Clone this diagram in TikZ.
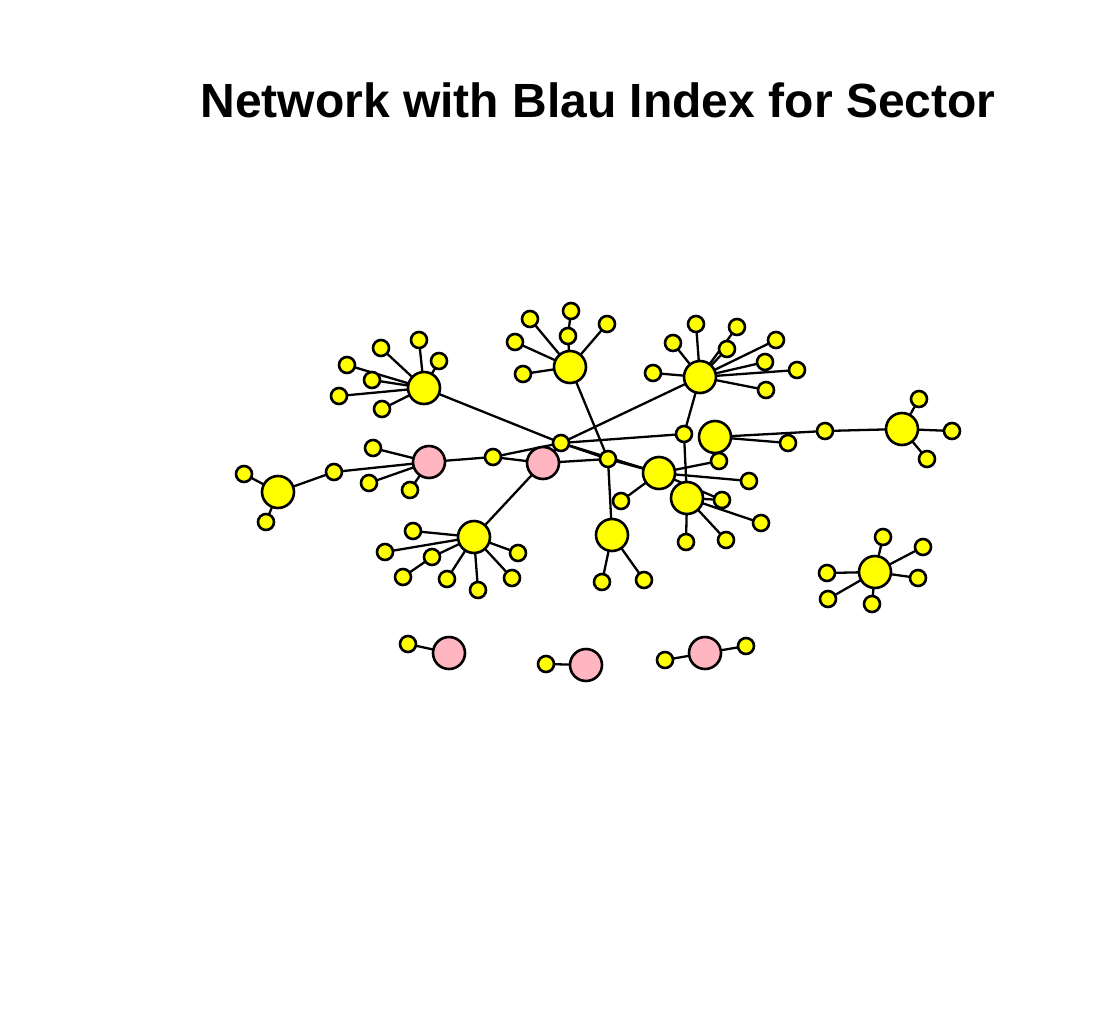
\documentclass[tikz,border=0pt]{standalone}
\usepackage{fontspec}
\setmainfont{Liberation Sans}
\pgfdeclarelayer{back}
\pgfdeclarelayer{bg}
\pgfsetlayers{back,bg,main}
\definecolor{nyel}{RGB}{255,255,0}
\definecolor{npink}{RGB}{255,182,193}
\tikzset{
  big/.style={circle,draw=black,line width=2.6pt,fill=nyel,minimum size=32pt,inner sep=0pt},
  sml/.style={circle,draw=black,line width=2.6pt,fill=nyel,minimum size=16pt,inner sep=0pt},
  pnk/.style={circle,draw=black,line width=2.6pt,fill=npink,minimum size=32pt,inner sep=0pt},
  edge/.style={draw=black,line width=2.3pt}
}
\begin{document}
\begin{tikzpicture}[x=1pt,y=-1pt]
\begin{pgfonlayer}{back}
\fill[white] (0,0) rectangle (1100,1025);
\end{pgfonlayer}
\useasboundingbox (0,0) rectangle (1100,1025);
\node[font=\fontsize{48}{52}\selectfont\bfseries] (title) at (598,100) {Network with Blau Index for Sector};
% main component
\node[big] (A) at (424,388) {};
\foreach \n/\x/\y in {a1/419/340,a2/381/348,a3/439/361,a4/347/365,a5/372/380,a6/339/396,a7/382/409}
  \node[sml] (\n) at (\x,\y) {};
\node[pnk] (P1) at (429,462) {};
\foreach \n/\x/\y in {p1a/373/448,p1b/369/483,p1c/410/490,p1d/334/472,p1e/493/457}
  \node[sml] (\n) at (\x,\y) {};
\node[big] (Bb) at (278,492) {};
\node[sml] (b1) at (244,474) {};
\node[sml] (b2) at (266,522) {};
\node[pnk] (P2) at (543,463) {};
\node[sml] (ce) at (561,443) {};
\node[big] (C) at (570,367) {};
\foreach \n/\x/\y in {c1/530/319,c2/571/311,c3/607/324,c4/568/336,c5/515/342,c6/523/374}
  \node[sml] (\n) at (\x,\y) {};
\node[big] (D) at (700,377) {};
\foreach \n/\x/\y in {d1/696/324,d2/737/327,d3/673/343,d4/727/349,d5/776/340,d6/765/362,d7/797/370,d8/653/373,d9/766/390}
  \node[sml] (\n) at (\x,\y) {};
\node[sml] (m1) at (608,459) {};
\node[sml] (s2) at (684,434) {};
\node[big] (E) at (715,437) {};
\node[big] (F) at (902,429) {};
\foreach \n/\x/\y in {e1/719/461,e2/788/443,e3/825/431,f1/919/399,f2/952/431,f3/927/459}
  \node[sml] (\n) at (\x,\y) {};
\node[big] (G) at (659,473) {};
\node[big] (J) at (687,498) {};
\node[big] (H) at (612,535) {};
\foreach \n/\x/\y in {g1/749/481,g2/621/501,j1/722/500,j2/761/523,j3/686/542,j4/726/540,h1/602/582,h2/644/580}
  \node[sml] (\n) at (\x,\y) {};
\node[big] (I) at (474,537) {};
\foreach \n/\x/\y in {i1/413/531,i2/385/552,i3/432/557,i4/403/577,i5/447/579,i6/478/590,i7/512/578,i8/518/553}
  \node[sml] (\n) at (\x,\y) {};
% component K
\node[big] (K) at (875,572) {};
\foreach \n/\x/\y in {k1/883/537,k2/923/547,k3/918/578,k4/827/573,k5/828/599,k6/872/604}
  \node[sml] (\n) at (\x,\y) {};
% pairs
\node[pnk] (Q1) at (449,653) {};
\node[sml] (q1) at (408,644) {};
\node[pnk] (Q2) at (586,665) {};
\node[sml] (q2) at (546,664) {};
\node[pnk] (Q3) at (705,653) {};
\node[sml] (q3) at (665,660) {};
\node[sml] (q4) at (746,646) {};
\begin{pgfonlayer}{bg}
\foreach \u/\v in {A/a1,A/a2,A/a3,A/a4,A/a5,A/a6,A/a7,A/ce,
  P1/p1a,P1/p1b,P1/p1c,P1/p1d,P1/p1e,Bb/b1,Bb/b2,Bb/p1d,
  p1e/P2,p1e/ce,P2/m1,P2/I,P2/ce,
  ce/D,ce/s2,ce/m1,ce/G,
  C/c1,C/c3,C/c4,C/c5,C/c6,c4/c2,C/m1,
  D/d1,D/d2,D/d3,D/d4,D/d5,D/d6,D/d7,D/d8,D/d9,D/s2,
  m1/G,m1/H,s2/J,
  E/e1,E/e2,E/e3,e3/F,F/f1,F/f2,F/f3,
  G/e1,G/g1,G/g2,G/j1,
  J/j1,J/j2,J/j3,J/j4,H/h1,H/h2,
  I/i1,I/i2,I/i3,I/i5,I/i6,I/i7,I/i8,i3/i4,
  K/k1,K/k2,K/k3,K/k4,K/k5,K/k6,
  Q1/q1,Q2/q2,Q3/q3,Q3/q4}
  \draw[edge] (\u.center) -- (\v.center);
\end{pgfonlayer}
\end{tikzpicture}
\end{document}
